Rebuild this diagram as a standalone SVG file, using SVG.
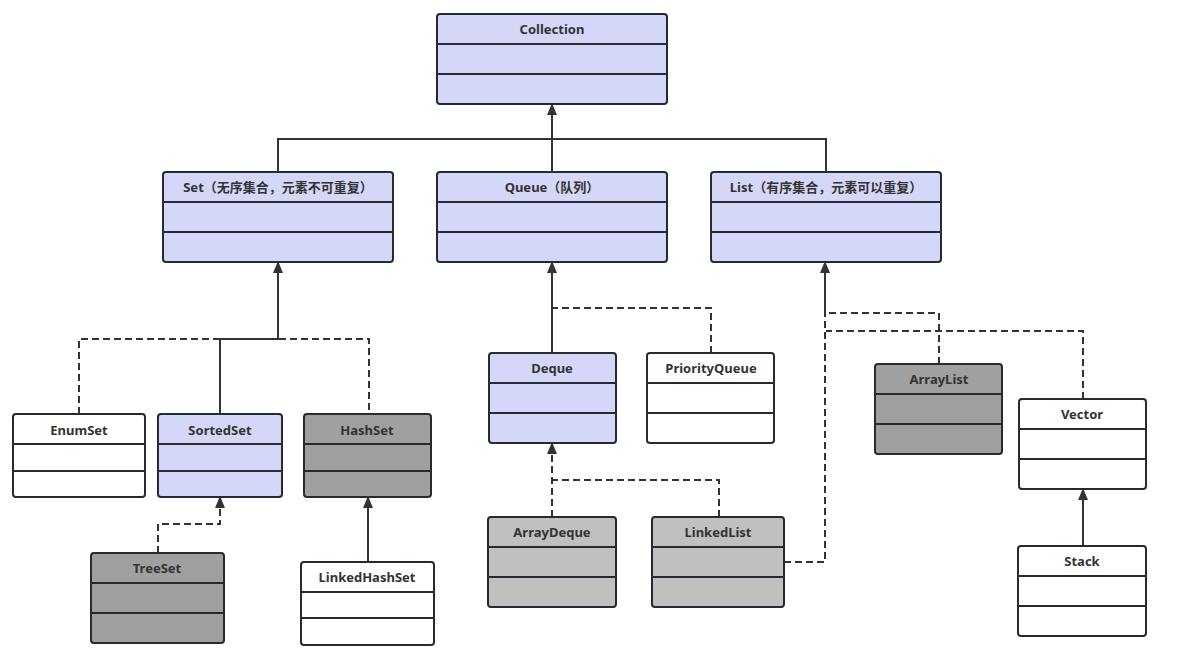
<svg xmlns="http://www.w3.org/2000/svg" width="1180" height="666" viewBox="0 0 1180 666">
<style>
.box{stroke:#262b31;stroke-width:2}
.div{stroke:#262b31;stroke-width:2}
.lav{fill:#d4d7f8}
.wht{fill:#ffffff}
.dk{fill:#a0a0a0}
.lt{fill:#c0c0c0}
.t{font-family:"Noto Sans","Noto Sans CJK SC",sans-serif;font-size:13px;font-weight:bold;fill:#333;text-anchor:middle}
.c{fill:none;stroke:#333;stroke-width:2}
.d{stroke-dasharray:7 4}
</style>
<defs>
<marker id="arr" viewBox="0 0 12 10" refX="11" refY="5" markerWidth="12" markerHeight="10" markerUnits="userSpaceOnUse" orient="auto">
<path d="M0 0 L12 5 L0 10 Z" fill="#333"/>
</marker>
</defs>
<rect width="1180" height="666" fill="#ffffff"/>
<g id="connectors">
<path class="c" d="M278 172 V139 H826 V172"/>
<path class="c" d="M552 172 V104" marker-end="url(#arr)"/>
<path class="c d" d="M79 414 V339 H369 V414"/>
<path class="c" d="M220 414 V339 H278 V262" marker-end="url(#arr)"/>
<path class="c d" d="M158 553 V524 H220 V497" marker-end="url(#arr)"/>
<path class="c" d="M368 562 V497" marker-end="url(#arr)"/>
<path class="c" d="M552 353 V262" marker-end="url(#arr)"/>
<path class="c d" d="M711 353 V308 H552"/>
<path class="c d" d="M552 517 V443" marker-end="url(#arr)"/>
<path class="c d" d="M719 517 V480 H552"/>
<path class="c d" d="M784 562 H825 V262" marker-end="url(#arr)"/>
<path class="c" d="M825 313 V268"/>
<path class="c d" d="M939 364 V313 H826"/>
<path class="c d" d="M1083 399 V331 H826"/>
<path class="c" d="M1083 546 V489" marker-end="url(#arr)"/>
</g>
<g id="Collection">
<rect class="box lav" x="437" y="14" width="230" height="90" rx="3"/>
<path class="div" d="M437 44 H667 M437 74 H667"/>
<text class="t" x="552" y="34">Collection</text>
</g>
<g id="Set">
<rect class="box lav" x="163" y="172" width="230" height="90" rx="3"/>
<path class="div" d="M163 202 H393 M163 232 H393"/>
<text class="t" x="278" y="192">Set（无序集合，元素不可重复）</text>
</g>
<g id="Queue">
<rect class="box lav" x="437" y="172" width="230" height="90" rx="3"/>
<path class="div" d="M437 202 H667 M437 232 H667"/>
<text class="t" x="552" y="192">Queue（队列）</text>
</g>
<g id="List">
<rect class="box lav" x="711" y="172" width="230" height="90" rx="3"/>
<path class="div" d="M711 202 H941 M711 232 H941"/>
<text class="t" x="826" y="192">List（有序集合，元素可以重复）</text>
</g>
<g id="EnumSet">
<rect class="box wht" x="13" y="414" width="132" height="83" rx="3"/>
<path class="div" d="M13 444 H145 M13 471 H145"/>
<text class="t" x="79" y="435">EnumSet</text>
</g>
<g id="SortedSet">
<rect class="box lav" x="158" y="414" width="124" height="83" rx="3"/>
<path class="div" d="M158 444 H282 M158 471 H282"/>
<text class="t" x="220" y="435">SortedSet</text>
</g>
<g id="HashSet">
<rect class="box dk" x="304" y="414" width="127" height="83" rx="3"/>
<path class="div" d="M304 444 H431 M304 471 H431"/>
<text class="t" x="367" y="435">HashSet</text>
</g>
<g id="TreeSet">
<rect class="box dk" x="91" y="553" width="133" height="90" rx="3"/>
<path class="div" d="M91 583 H224 M91 613 H224"/>
<text class="t" x="157" y="573">TreeSet</text>
</g>
<g id="LinkedHashSet">
<rect class="box wht" x="301" y="562" width="133" height="83" rx="3"/>
<path class="div" d="M301 592 H434 M301 618 H434"/>
<text class="t" x="367" y="582">LinkedHashSet</text>
</g>
<g id="Deque">
<rect class="box lav" x="489" y="353" width="127" height="90" rx="3"/>
<path class="div" d="M489 383 H616 M489 413 H616"/>
<text class="t" x="552" y="373">Deque</text>
</g>
<g id="PriorityQueue">
<rect class="box wht" x="647" y="353" width="127" height="90" rx="3"/>
<path class="div" d="M647 383 H774 M647 413 H774"/>
<text class="t" x="711" y="373">PriorityQueue</text>
</g>
<g id="ArrayDeque">
<rect class="box lt" x="488" y="517" width="128" height="90" rx="3"/>
<path class="div" d="M488 547 H616 M488 577 H616"/>
<text class="t" x="552" y="537">ArrayDeque</text>
</g>
<g id="LinkedList">
<rect class="box lt" x="652" y="517" width="132" height="90" rx="3"/>
<path class="div" d="M652 547 H784 M652 577 H784"/>
<text class="t" x="718" y="537">LinkedList</text>
</g>
<g id="ArrayList">
<rect class="box dk" x="875" y="364" width="127" height="90" rx="3"/>
<path class="div" d="M875 394 H1002 M875 424 H1002"/>
<text class="t" x="939" y="384">ArrayList</text>
</g>
<g id="Vector">
<rect class="box wht" x="1019" y="399" width="127" height="90" rx="3"/>
<path class="div" d="M1019 429 H1146 M1019 459 H1146"/>
<text class="t" x="1082" y="419">Vector</text>
</g>
<g id="Stack">
<rect class="box wht" x="1018" y="546" width="128" height="90" rx="3"/>
<path class="div" d="M1018 576 H1146 M1018 606 H1146"/>
<text class="t" x="1082" y="566">Stack</text>
</g>
</svg>
